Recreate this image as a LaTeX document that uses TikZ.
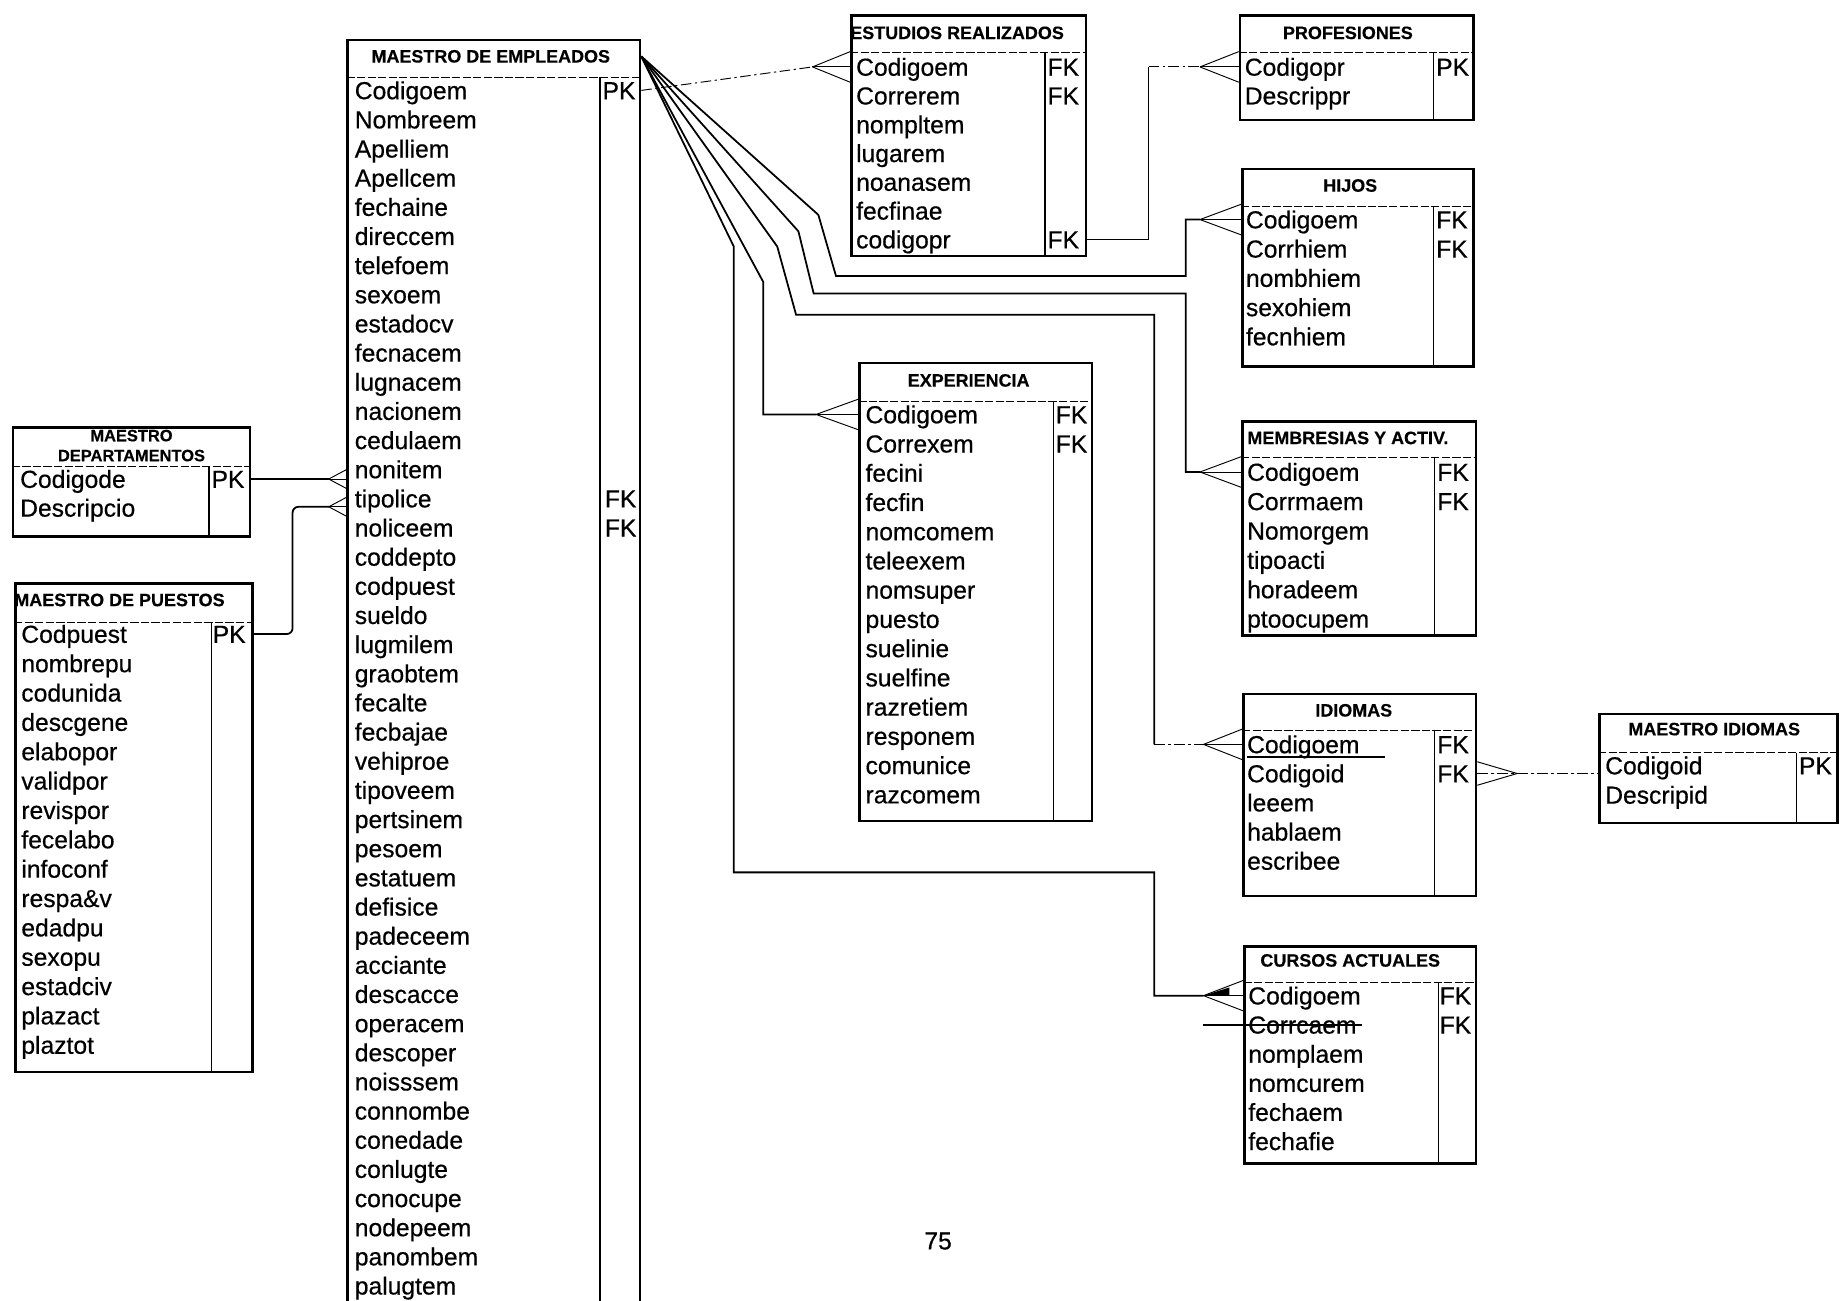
\documentclass[tikz,border=0pt]{standalone}
\usepackage{fontspec}
\setmainfont{Liberation Sans}
\newfontfamily\fldfam{Liberation Sans}[FakeBold=0.5]
\newfontfamily\ttlfam{Liberation Sans}[BoldFeatures={FakeBold=0.4}]
\newcommand{\fldfont}{\fontsize{21}{24}\fldfam}
\newcommand{\ttlfont}{\fontsize{15.3}{17}\ttlfam\bfseries}

\begin{document}
\begin{tikzpicture}[x=1pt, y=-1pt, font=\fldfont,
  tbl/.style={draw, line width=2.2pt, anchor=north west, inner sep=0pt},
  ttl/.style={font=\ttlfont, inner sep=0pt},
  fld/.style={anchor=west, inner sep=0pt, text height=17pt, text depth=2pt},
  hsep/.style={line width=0.8pt, dash pattern=on 7pt off 2pt},
  div/.style={line width=1.1pt},
  rel/.style={line width=1.5pt},
  idrel/.style={line width=0.8pt, dash pattern=on 9pt off 3pt on 2pt off 3pt},
  prong/.style={line width=0.8pt},
]
\fill[white] (0,0) rectangle (1568,1108);
\useasboundingbox (0,0) rectangle (1568,1108);

% ===== MAESTRO DE EMPLEADOS =====
\node[tbl, minimum width=249pt, minimum height=1100pt] (emp) at (295,33) {};
\node[ttl] (emp-t) at (418,48) {MAESTRO DE EMPLEADOS};
\draw[hsep] (295,66) -- (544,66);
\draw[div] (511,66) -- (511,1110);
\foreach \f [count=\i] in {Codigoem,Nombreem,Apelliem,Apellcem,fechaine,direccem,
  telefoem,sexoem,estadocv,fecnacem,lugnacem,nacionem,cedulaem,nonitem,tipolice,
  noliceem,coddepto,codpuest,sueldo,lugmilem,graobtem,fecalte,fecbajae,vehiproe,
  tipoveem,pertsinem,pesoem,estatuem,defisice,padeceem,acciante,descacce,operacem,
  descoper,noisssem,connombe,conedade,conlugte,conocupe,nodepeem,panombem,palugtem}
  \node[fld] (emp-\i) at (302,{77+24.83*(\i-1)}) {\f};
\node[fld] (emp-k1) at (emp-1 -| 513,0) {PK};
\node[fld] (emp-k2) at (emp-15 -| 515,0) {FK};
\node[fld] (emp-k3) at (emp-16 -| 515,0) {FK};

% ===== MAESTRO DEPARTAMENTOS =====
\node[tbl, minimum width=202pt, minimum height=93pt] (dep) at (10,363) {};
\node[ttl, font=\fontsize{14}{16}\ttlfam\bfseries] (dep-t) at (112,371) {MAESTRO};
\node[ttl, font=\fontsize{14}{16}\ttlfam\bfseries] (dep-t2) at (112,388) {DEPARTAMENTOS};
\draw[hsep] (10,397) -- (212,397);
\draw[div] (178,397) -- (178,456);
\foreach \f [count=\i] in {Codigode,Descripcio}
  \node[fld] (dep-\i) at (17,{408+24.5*(\i-1)}) {\f};
\node[fld] (dep-k1) at (dep-1 -| 180,0) {PK};

% ===== MAESTRO DE PUESTOS =====
\node[tbl, minimum width=202pt, minimum height=416pt] (pue) at (12,496) {};
\node[ttl, anchor=west] (pue-t) at (12,511) {MAESTRO DE PUESTOS};
\draw[hsep] (12,530) -- (214,530);
\draw[div] (180,530) -- (180,912);
\foreach \f [count=\i] in {Codpuest,nombrepu,codunida,descgene,elabopor,validpor,
  revispor,fecelabo,infoconf,respa\&v,edadpu,sexopu,estadciv,plazact,plaztot}
  \node[fld] (pue-\i) at (18,{540+25*(\i-1)}) {\f};
\node[fld] (pue-k1) at (pue-1 -| 181,0) {PK};

% ===== ESTUDIOS REALIZADOS =====
\node[tbl, minimum width=200pt, minimum height=205pt] (est) at (724,12) {};
\node[ttl, anchor=west] (est-t) at (724,28) {ESTUDIOS REALIZADOS};
\draw[hsep] (724,45) -- (924,45);
\draw[div] (890,45) -- (890,217);
\foreach \f [count=\i] in {Codigoem,Correrem,nompltem,lugarem,noanasem,fecfinae,codigopr}
  \node[fld] (est-\i) at (729,{57+24.5*(\i-1)}) {\f};
\node[fld] (est-k1) at (est-1 -| 892,0) {FK};
\node[fld] (est-k2) at (est-2 -| 892,0) {FK};
\node[fld] (est-k3) at (est-7 -| 892,0) {FK};

% ===== PROFESIONES =====
\node[tbl, minimum width=199pt, minimum height=89pt] (prof) at (1055,12) {};
\node[ttl] (prof-t) at (1148,28) {PROFESIONES};
\draw[hsep] (1055,45) -- (1254,45);
\draw[div] (1221,45) -- (1221,101);
\foreach \f [count=\i] in {Codigopr,Descrippr}
  \node[fld] (prof-\i) at (1060,{57+24.5*(\i-1)}) {\f};
\node[fld] (prof-k1) at (prof-1 -| 1223,0) {PK};

% ===== HIJOS =====
\node[tbl, minimum width=197pt, minimum height=168pt] (hij) at (1057,143) {};
\node[ttl] (hij-t) at (1150,158) {HIJOS};
\draw[hsep] (1057,176) -- (1254,176);
\draw[div] (1221,176) -- (1221,311);
\foreach \f [count=\i] in {Codigoem,Corrhiem,nombhiem,sexohiem,fecnhiem}
  \node[fld] (hij-\i) at (1061,{187+24.9*(\i-1)}) {\f};
\node[fld] (hij-k1) at (hij-1 -| 1223,0) {FK};
\node[fld] (hij-k2) at (hij-2 -| 1223,0) {FK};

% ===== EXPERIENCIA =====
\node[tbl, minimum width=198pt, minimum height=390pt] (exp) at (731,308) {};
\node[ttl] (exp-t) at (825,324) {EXPERIENCIA};
\draw[hsep] (731,342) -- (929,342);
\draw[div] (897,342) -- (897,698);
\foreach \f [count=\i] in {Codigoem,Correxem,fecini,fecfin,nomcomem,teleexem,nomsuper,
  puesto,suelinie,suelfine,razretiem,responem,comunice,razcomem}
  \node[fld] (exp-\i) at (737,{353+24.9*(\i-1)}) {\f};
\node[fld] (exp-k1) at (exp-1 -| 899,0) {FK};
\node[fld] (exp-k2) at (exp-2 -| 899,0) {FK};

% ===== MEMBRESIAS Y ACTIV. =====
\node[tbl, minimum width=199pt, minimum height=182pt] (mem) at (1057,358) {};
\node[ttl] (mem-t) at (1148,373) {MEMBRESIAS Y ACTIV.};
\draw[hsep] (1057,390) -- (1256,390);
\draw[div] (1222,390) -- (1222,540);
\foreach \f [count=\i] in {Codigoem,Corrmaem,Nomorgem,tipoacti,horadeem,ptoocupem}
  \node[fld] (mem-\i) at (1062,{402+25*(\i-1)}) {\f};
\node[fld] (mem-k1) at (mem-1 -| 1224,0) {FK};
\node[fld] (mem-k2) at (mem-2 -| 1224,0) {FK};

% ===== IDIOMAS =====
\node[tbl, minimum width=198pt, minimum height=172pt] (idi) at (1058,590) {};
\node[ttl] (idi-t) at (1153,605) {IDIOMAS};
\draw[hsep] (1058,622) -- (1256,622);
\draw[div] (1222,622) -- (1222,762);
\foreach \f [count=\i] in {Codigoem,Codigoid,leeem,hablaem,escribee}
  \node[fld] (idi-\i) at (1062,{634+24.8*(\i-1)}) {\f};
\node[fld] (idi-k1) at (idi-1 -| 1224,0) {FK};
\node[fld] (idi-k2) at (idi-2 -| 1224,0) {FK};
\draw[line width=1pt] ([yshift=-1]idi-1.south west) -- ++(118,0);

% ===== MAESTRO IDIOMAS =====
\node[tbl, minimum width=203pt, minimum height=93pt] (mid) at (1361,607) {};
\node[ttl] (mid-t) at (1460,621) {MAESTRO IDIOMAS};
\draw[hsep] (1361,641) -- (1564,641);
\draw[div] (1530,641) -- (1530,700);
\foreach \f [count=\i] in {Codigoid,Descripid}
  \node[fld] (mid-\i) at (1367,{652+25*(\i-1)}) {\f};
\node[fld] (mid-k1) at (mid-1 -| 1532,0) {PK};

% ===== CURSOS ACTUALES =====
\node[tbl, minimum width=197pt, minimum height=185pt] (cur) at (1059,805) {};
\node[ttl] (cur-t) at (1150,818) {CURSOS ACTUALES};
\draw[hsep] (1059,837) -- (1256,837);
\draw[div] (1225,837) -- (1225,990);
\foreach \f [count=\i] in {Codigoem,Corrcaem,nomplaem,nomcurem,fechaem,fechafie}
  \node[fld] (cur-\i) at (1063,{848+24.8*(\i-1)}) {\f};
\node[fld] (cur-k1) at (cur-1 -| 1226,0) {FK};
\node[fld] (cur-k2) at (cur-2 -| 1226,0) {FK};
\draw[line width=1.3pt] ([xshift=-38pt]cur-2.west) -- ([xshift=97pt]cur-2.west);

\node (pg) at (799,1057) {75};

% ===== crow's feet anchors =====
\path (est.west |- est-1) coordinate (est-in) ++(-32,0) coordinate (cf-est);
\path (prof.west |- prof-1) coordinate (prof-in) ++(-33,0) coordinate (cf-prof);
\path (hij.west |- hij-1) coordinate (hij-in) ++(-35,0) coordinate (cf-hij);
\path (exp.west |- exp-1) coordinate (exp-in) ++(-36,0) coordinate (cf-exp);
\path (mem.west |- mem-1) coordinate (mem-in) ++(-35,0) coordinate (cf-mem);
\path (idi.west |- idi-1) coordinate (idi-in) ++(-33,0) coordinate (cf-idi);
\path (cur.west |- cur-1) coordinate (cur-in) ++(-34,0) coordinate (cf-cur);
\foreach \t in {est,prof,hij,exp,mem,idi,cur}
  \foreach \d in {13,0,-13}
    \draw[prong] (cf-\t) -- ([yshift=\d]\t-in);
\fill (cf-cur) -- ++(22,-7) -- ++(0,7) -- cycle;

% ===== relationships =====
\coordinate (fan) at (emp-t -| emp.east);
\draw[idrel] (emp.east |- emp-1) -- (cf-est);
\draw[rel] (est.east |- est-7) -- ++(52,0) coordinate (prof-k) -- (prof-k |- cf-prof);
\draw[idrel] (prof-k |- cf-prof) -- (cf-prof);
\draw[rel] (fan) -- (697,183) -- (712,235) -| ([xshift=-12]cf-hij) -- (cf-hij);
\draw[rel] (fan) -- (680,197) -- (693,250) -| ([xshift=-12]cf-mem) -- (cf-mem);
\draw[rel] (fan) -- (662,210) -- (678,268) -| ([xshift=-42]cf-idi);
\draw[idrel] ([xshift=-42]cf-idi) -- (cf-idi);
\draw[rel] (fan) -- (650,240) |- (cf-exp);
\draw[rel] (fan) -- (625,210) -- (625,743) -| ([xshift=-42]cf-cur) -- (cf-cur);

% left side
\path (emp.west |- dep-1) coordinate (emp-in1) ++(-15,0) coordinate (cf-dep);
\path (emp.west |- emp-15) ++(0,7) coordinate (emp-in2) ++(-15,0) coordinate (cf-pue);
\draw[rel] (dep.east |- dep-1) -- (cf-dep);
\draw[rel, rounded corners=5pt] (pue.east |- pue-1) -- ++(33,0) |- (cf-pue);
\foreach \d in {8,0,-8} {
  \draw[prong] (cf-dep) -- ([yshift=\d]emp-in1);
  \draw[prong] (cf-pue) -- ([yshift=\d]emp-in2);
}

% idiomas -> maestro idiomas
\path (idi.east |- idi-2) coordinate (idi-out) ++(34,0) coordinate (cf-mid);
\draw[idrel] (idi-out) -- (mid.west |- idi-out);
\foreach \d in {10,-10}
  \draw[prong] (cf-mid) -- ([yshift=\d]idi-out);

\end{tikzpicture}
\end{document}
